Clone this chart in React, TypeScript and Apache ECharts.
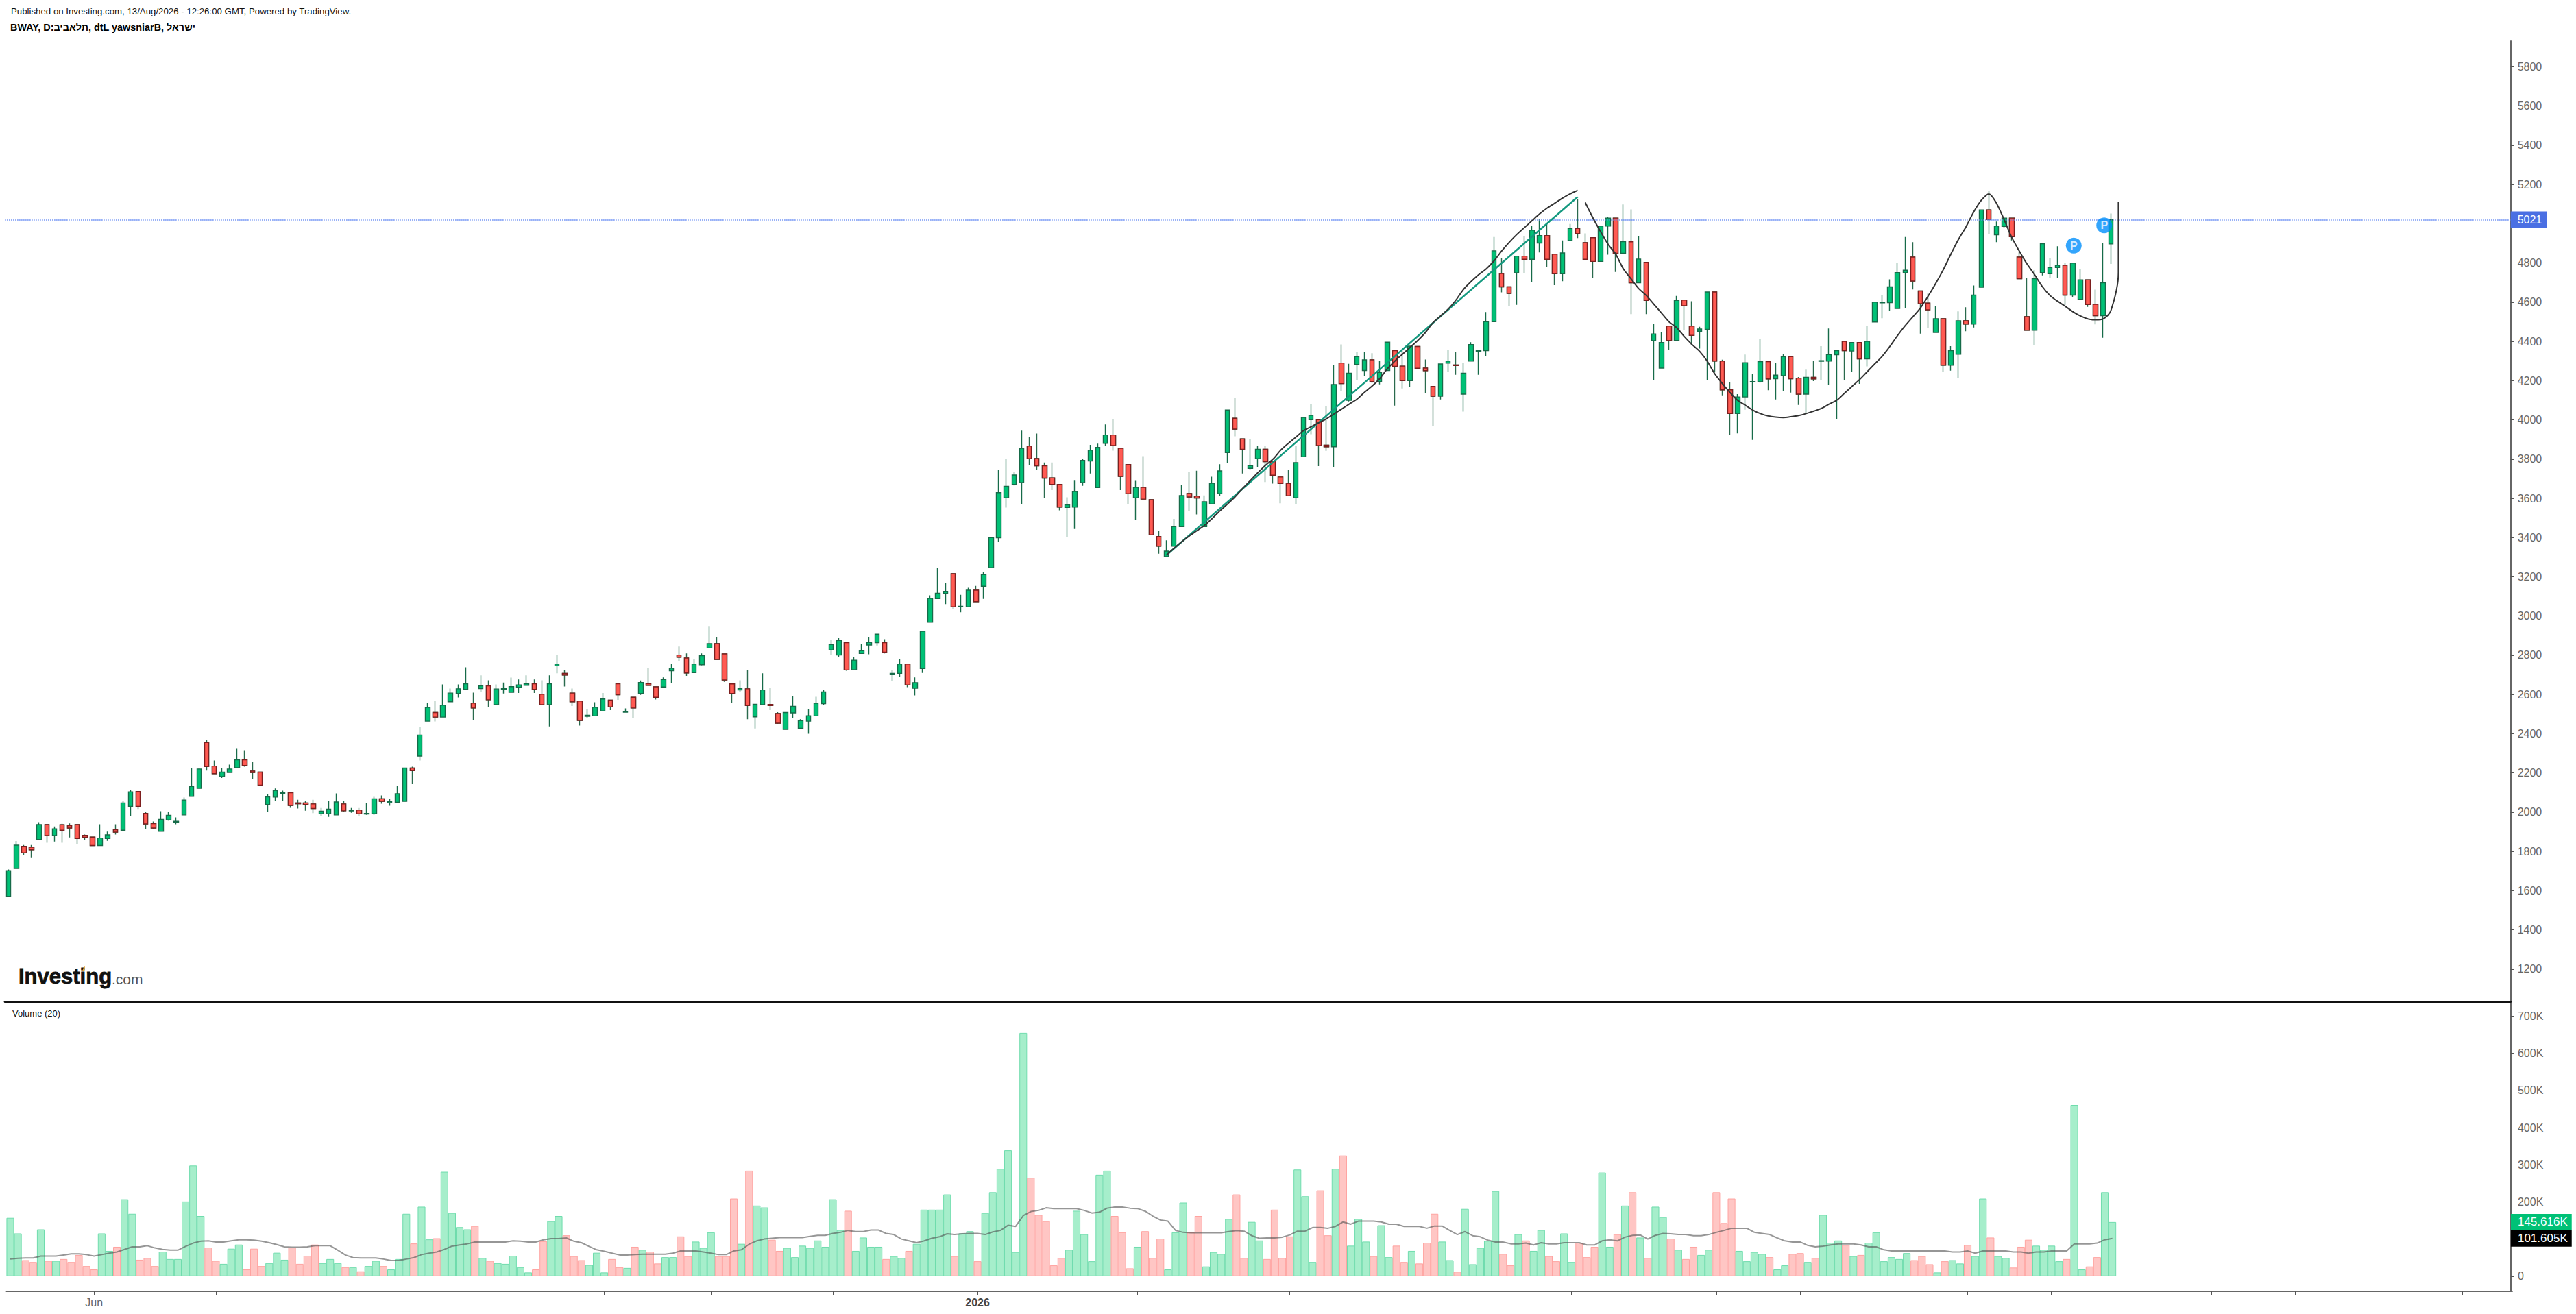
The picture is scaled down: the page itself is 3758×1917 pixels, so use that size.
import React, { useEffect, useRef } from "react";
import * as echarts from "echarts";

const headerLine1 = "Published on Investing.com, 13/Aug/2026 - 12:26:00 GMT, Powered by TradingView.";
// The reference shows these glyphs in this left-to-right order, so the direction is forced.
const headerLine2 = "\u202DBWAY, D:\u05D1\u05D9\u05D1\u05D0\u05DC\u05EA, dtL yawsniarB, \u05DC\u05D0\u05E8\u05E9\u05D9\u202C";
const volumeTitle = "Volume (20)";

const opens = [
1571,1713,1826,1821,1861,1937,1881,1936,1931,1937,
1882,1873,1830,1866,1910,1908,2029,2105,1994,1942,
1902,1960,1948,1986,2081,2122,2355,2235,2181,2202,
2227,2267,2209,2204,2039,2077,2096,2099,2047,2047,
2042,1992,1992,1986,2042,2006,2011,1991,1992,2068,
2049,2050,2055,2225,2286,2464,2508,2485,2563,2605,
2626,2556,2630,2644,2548,2626,2611,2637,2647,2655,
2601,2548,2746,2707,2607,2566,2489,2491,2516,2571,
2655,2510,2586,2605,2655,2639,2638,2721,2801,2786,
2711,2752,2837,2859,2807,2654,2623,2629,2486,2548,
2549,2503,2422,2506,2428,2464,2491,2553,2827,2801,
2864,2727,2809,2852,2864,2864,2701,2707,2755,2632,
2732,2968,3089,3115,3216,3047,3047,3132,3152,3246,
3399,3603,3671,3681,3866,3803,3766,3704,3671,3554,
3555,3681,3790,3655,3880,3923,3855,3772,3603,3656,
3593,3405,3303,3356,3456,3625,3611,3456,3571,3624,
3833,4008,3903,3753,3802,3850,3787,3709,3676,3603,
3812,4001,4001,3871,3863,4290,4100,4283,4252,4306,
4195,4252,4353,4274,4200,4374,4264,4171,4121,4289,
4280,4131,4300,4349,4353,4501,4746,4678,4750,4835,
4819,4902,4940,4845,4745,4914,4976,4904,4929,4808,
4988,5029,4850,4908,4699,4803,4404,4264,4478,4405,
4611,4478,4452,4462,4652,4300,4153,4032,4117,4193,
4194,4297,4210,4226,4322,4213,4131,4217,4299,4300,
4332,4400,4351,4394,4311,4499,4597,4598,4568,4750,
4830,4657,4595,4446,4516,4279,4335,4505,4488,4676,
5071,4944,4986,5029,4830,4526,4457,4751,4745,4777,
4788,4636,4615,4714,4589,4531,4897];

const closes = [
1702,1832,1793,1808,1937,1881,1915,1908,1919,1866,
1872,1830,1868,1884,1898,2047,2104,2029,1940,1919,
1963,1984,1953,2062,2131,2220,2233,2196,2204,2220,
2267,2238,2202,2138,2078,2110,2099,2034,2043,2039,
2019,2005,2015,2052,2007,2011,1992,1994,2068,2055,
2054,2094,2225,2212,2393,2534,2485,2545,2607,2629,
2655,2531,2644,2573,2628,2630,2640,2649,2655,2626,
2548,2655,2755,2699,2563,2468,2494,2535,2577,2537,
2599,2514,2531,2661,2647,2586,2676,2734,2790,2710,
2755,2798,2859,2779,2674,2605,2630,2544,2550,2623,
2544,2454,2508,2540,2467,2492,2555,2613,2855,2876,
2725,2775,2823,2865,2907,2816,2707,2755,2649,2660,
2922,3090,3116,3126,3047,3050,3132,3073,3211,3400,
3629,3661,3719,3855,3802,3766,3703,3671,3555,3567,
3635,3793,3845,3860,3923,3869,3712,3624,3656,3596,
3414,3356,3331,3456,3614,3607,3602,3583,3677,3740,
4050,3953,3850,3767,3850,3787,3718,3676,3613,3782,
4012,4023,3869,3863,4180,4185,4238,4322,4306,4195,
4242,4396,4273,4200,4376,4263,4251,4121,4285,4300,
4277,4238,4384,4353,4501,4862,4678,4645,4835,4819,
4967,4940,4819,4745,4851,4976,4950,4819,4808,4988,
5029,4850,4909,4699,4820,4609,4438,4394,4405,4609,
4582,4431,4463,4652,4300,4153,4032,4117,4291,4195,
4297,4209,4228,4322,4210,4131,4217,4209,4302,4333,
4353,4353,4394,4311,4400,4600,4601,4678,4751,4763,
4708,4593,4561,4516,4279,4353,4505,4488,4636,5071,
5022,4988,5029,4934,4720,4457,4720,4898,4777,4788,
4636,4799,4714,4588,4531,4699,5020];

const highs = [
1708,1853,1833,1833,1949,1937,1927,1941,1943,1937,
1886,1875,1938,1901,1938,2058,2115,2105,2001,1952,
2005,2001,1973,2075,2226,2226,2368,2263,2226,2242,
2326,2316,2258,2204,2090,2121,2110,2099,2063,2057,
2063,2021,2058,2096,2057,2021,2021,2048,2078,2085,
2069,2132,2225,2232,2436,2557,2567,2651,2630,2651,
2739,2609,2698,2672,2651,2661,2686,2677,2698,2677,
2672,2698,2803,2725,2630,2566,2524,2560,2608,2571,
2655,2529,2586,2671,2734,2639,2687,2757,2844,2809,
2782,2809,2946,2893,2807,2654,2672,2725,2551,2708,
2632,2510,2508,2594,2474,2526,2588,2625,2877,2887,
2864,2792,2856,2893,2907,2882,2725,2782,2755,2687,
2922,3106,3244,3170,3216,3108,3144,3154,3223,3400,
3747,3800,3735,3945,3914,3930,3783,3783,3671,3605,
3690,3800,3873,3879,3977,4003,3855,3772,3689,3815,
3593,3433,3386,3495,3668,3735,3741,3615,3710,3774,
4050,4114,3903,3903,3869,3868,3787,3709,3746,3869,
4012,4079,4001,4071,4280,4385,4286,4344,4344,4340,
4302,4396,4353,4353,4376,4374,4308,4171,4285,4355,
4344,4292,4396,4353,4550,4932,4827,4678,4835,4936,
4990,5025,4999,4845,4915,4999,5125,4951,4929,4988,
5036,5029,5098,5073,4936,4803,4490,4448,4478,4632,
4611,4605,4475,4652,4652,4307,4193,4131,4333,4236,
4413,4297,4292,4335,4322,4219,4256,4302,4376,4466,
4353,4400,4394,4394,4480,4600,4638,4717,4801,4932,
4906,4657,4644,4580,4516,4376,4553,4574,4685,5071,
5168,5011,5029,5029,4854,4722,4764,4898,4827,4885,
4801,4799,4770,4714,4664,4904,5052];

const lows = [
1567,1713,1781,1766,1861,1844,1850,1844,1871,1839,
1860,1830,1830,1854,1886,1908,1980,2016,1916,1916,
1902,1957,1938,1986,2081,2122,2212,2196,2174,2202,
2227,2232,2168,2138,2001,2058,2059,2022,2019,2007,
1995,1980,1976,1986,2002,1997,1980,1986,1986,2043,
2033,2050,2055,2143,2263,2464,2463,2485,2563,2585,
2626,2468,2615,2536,2548,2605,2611,2608,2647,2608,
2548,2437,2708,2641,2541,2442,2478,2491,2516,2520,
2573,2510,2478,2598,2647,2574,2638,2658,2772,2695,
2711,2748,2837,2779,2664,2558,2611,2474,2427,2548,
2520,2450,2422,2479,2428,2400,2491,2547,2800,2790,
2721,2727,2809,2805,2850,2809,2669,2689,2637,2595,
2710,2968,3089,3061,3035,3019,3047,3073,3087,3246,
3377,3553,3666,3569,3768,3747,3602,3642,3539,3402,
3444,3664,3727,3655,3868,3843,3642,3570,3491,3592,
3414,3318,3301,3356,3456,3537,3518,3456,3571,3611,
3780,3916,3727,3748,3758,3683,3675,3575,3613,3570,
3812,3927,3764,3842,3758,4146,4094,4203,4224,4189,
4181,4252,4073,4160,4166,4263,4136,3968,4104,4245,
4230,4042,4300,4230,4326,4501,4650,4580,4586,4749,
4702,4854,4780,4687,4707,4914,4927,4819,4723,4808,
4842,4754,4850,4539,4699,4539,4205,4264,4356,4405,
4457,4382,4364,4205,4242,4125,3922,3931,4052,3898,
4190,4151,4104,4146,4139,4076,4032,4198,4205,4178,
4005,4205,4247,4184,4273,4499,4518,4556,4568,4568,
4665,4440,4467,4446,4245,4251,4215,4452,4471,4676,
4949,4906,4980,4915,4720,4457,4382,4737,4723,4723,
4586,4624,4615,4576,4487,4419,4795];

// volume, thousands of shares
const volumes = [
157,115,43,38,126,41,41,46,38,57,
27,18,115,68,79,207,168,44,49,27,
66,46,46,201,298,162,77,41,33,74,
85,18,74,27,35,63,44,77,33,55,
85,35,46,35,24,24,13,27,41,27,
18,46,168,88,187,99,102,281,170,132,
126,135,49,41,35,33,55,24,10,18,
94,148,162,110,54,43,30,63,10,46,
24,22,79,71,66,34,51,51,107,54,
93,76,118,54,54,209,87,284,190,185,
98,68,76,51,82,76,96,79,207,124,
176,68,104,79,79,46,54,49,68,87,
179,179,179,220,54,115,121,40,170,226,
289,339,65,655,265,165,148,29,49,71,
176,113,40,273,284,162,118,21,79,121,
49,101,18,118,198,118,162,26,65,60,
154,220,49,146,96,46,179,49,107,287,
215,38,231,110,289,325,82,154,93,54,
137,51,82,38,68,34,90,168,93,43,
12,181,32,76,95,229,60,29,113,96,
68,124,54,40,115,38,90,51,79,279,
79,113,190,226,104,49,187,159,101,71,
46,79,57,71,226,143,209,68,40,65,
60,51,18,29,60,62,38,49,165,90,
96,84,54,57,90,118,40,51,46,62,
43,54,32,10,40,43,34,84,54,209,
104,54,49,23,79,98,82,71,82,40,
46,461,18,26,51,226,145.616];

// 20-period moving average of volume, thousands
const volumeAverage = [
46,48,49,49,54,54,54,57,60,60,
58,54,58,62,65,72,79,79,82,76,
72,70,70,80,89,94,95,92,92,95,
98,98,97,94,90,85,79,78,78,79,
82,82,82,70,57,50,49,49,49,46,
42,42,46,50,58,62,65,72,81,84,
87,92,92,92,92,92,95,94,92,92,
98,101,101,103,94,90,80,71,67,62,
57,57,58,59,59,59,59,62,68,68,
68,65,62,58,58,68,71,86,95,100,
102,104,104,104,104,107,110,110,115,118,
123,120,120,124,124,115,112,100,95,90,
95,102,106,114,112,114,115,115,112,119,
123,137,134,163,174,177,184,182,182,182,
182,177,170,172,183,186,186,183,182,175,
162,151,148,123,118,117,117,117,117,117,
120,123,121,109,102,103,103,105,111,121,
121,131,131,129,134,146,140,148,148,148,
146,140,140,134,134,134,129,135,135,123,
112,120,109,106,97,92,92,87,87,89,
84,90,87,87,90,90,90,84,84,95,
98,95,105,110,111,100,110,115,114,112,
112,109,109,112,118,123,129,129,129,118,
115,112,103,95,92,92,83,79,81,84,
87,87,87,84,79,79,71,68,68,68,
68,68,68,68,68,65,65,68,62,68,
68,68,68,65,65,62,65,65,68,68,
68,87,87,87,89,98,101.605];

// hand-drawn chart annotations: [bar index, price]
const trendLine: [number, number][] = [[152, 3310], [206, 5137]];
const drawnCurveUp: [number, number][] = [
[152,3310],[153,3345],[154,3378],[155,3408],[156,3435],[157,3462],[158,3497],[159,3535],[160,3570],[161,3607],
[162,3650],[163,3690],[164,3730],[165,3768],[166,3800],[167,3845],[168,3880],[169,3912],[170,3945],[171,3965],
[172,3985],[173,4005],[174,4030],[175,4055],[176,4080],[177,4105],[178,4140],[179,4172],[180,4210],[181,4260],
[182,4300],[183,4335],[184,4370],[185,4405],[186,4445],[187,4495],[188,4530],[189,4565],[190,4610],[191,4665],
[192,4705],[193,4740],[194,4770],[195,4810],[196,4860],[197,4905],[198,4945],[199,4980],[200,5015],[201,5050],
[202,5080],[203,5105],[204,5130],[205,5152],[206,5170]];
const drawnCurveDown: [number, number][] = [
[207,5108],[208,5030],[209,4960],[210,4895],[211,4845],[212,4770],[213,4720],[214,4670],[215,4635],[216,4590],
[217,4545],[218,4500],[219,4470],[220,4425],[221,4385],[222,4350],[223,4300],[224,4235],[225,4185],[226,4140],
[227,4100],[228,4075],[229,4050],[230,4032],[231,4020],[232,4014],[233,4012],[234,4016],[235,4022],[236,4032],
[237,4045],[238,4058],[239,4080],[240,4100],[241,4135],[242,4170],[243,4205],[244,4245],[245,4285],[246,4325],
[247,4375],[248,4430],[249,4480],[250,4525],[251,4570],[252,4630],[253,4695],[254,4765],[255,4845],[256,4920],
[257,4985],[258,5060],[259,5120],[260,5152],[261,5104],[262,5020],[263,4930],[264,4860],[265,4795],[266,4740],
[267,4680],[268,4635],[269,4605],[270,4580],[271,4552],[272,4530],[273,4515],[274,4510],[275,4515],[276,4556],
[277,4750],[277,5112]];
const pinMarks: [number, number][] = [[271, 4889], [275, 4992]];

const lastPrice = 5021;
const lastVolume = 145616;
const lastAverage = 101605;
const priceTicks = [1200,1400,1600,1800,2000,2200,2400,2600,2800,3000,3200,3400,3600,3800,4000,4200,4400,4600,4800,5000,5200,5400,5600,5800];
const volumeTicks = [0,100000,200000,300000,400000,500000,600000,700000];
// 100K is covered by the black last-value tag in the reference
const volumeTickLabels = [0,200000,300000,400000,500000,600000,700000];
const slotCount = 329;
const timeTicks = [11,27,46,62,78,92,108,127,148,168,189,205,224,235,246,257,268,289,300,311,322];
const timeLabels: Record<number, string> = { 11: "Jun", 127: "2026" };

const FONT = "'Liberation Sans', Arial, sans-serif";
const UP = "#00c176";
const UP_EDGE = "#176b49";
const WICK = "#2a6a4d";
const DOWN = "#ff5a52";
const DOWN_EDGE = "#7d1f1f";

export default function App() {
  const ref = useRef<HTMLDivElement>(null);
  useEffect(() => {
    document.body.style.margin = "0";
    const chart = echarts.init(ref.current!, undefined, { renderer: "svg" });
    const categories = Array.from({ length: slotCount }, (_, i) => timeLabels[i] ?? String(i));
    const tickSet = new Set(timeTicks);

    const candleData = opens.map((o, i) => [o, closes[i], lows[i], highs[i]]);
    const downBodies = opens.map((o, i) =>
      closes[i] < o ? [o, closes[i], closes[i], o] : ["-", "-", "-", "-"]
    );
    const volumeData = volumes.map((v, i) => ({
      value: v * 1000,
      itemStyle: closes[i] >= opens[i]
        ? { color: "#a6eecb", borderColor: "#6fdcad" }
        : { color: "#ffc6c4", borderColor: "#ffa3a0" },
    }));

    const curve = (data: [number, number][], color: string, width: number, smooth: any) => ({
      type: "line",
      xAxisIndex: 0,
      yAxisIndex: 0,
      data,
      symbol: "none",
      smooth,
      lineStyle: { color, width },
      silent: true,
      z: 5,
    });

    chart.setOption({
      animation: false,
      backgroundColor: "#ffffff",
      textStyle: { fontFamily: FONT },
      grid: [
        { left: 7.15, width: 3655.5, top: 60, height: 1401 },
        { left: 9.45, width: 3655.5, top: 1463, height: 421 },
      ],
      xAxis: [
        {
          type: "category",
          gridIndex: 0,
          data: categories,
          boundaryGap: true,
          axisLine: { show: true, onZero: false, lineStyle: { color: "#111111", width: 3 } },
          axisTick: { show: false },
          axisLabel: { show: false },
          splitLine: { show: false },
        },
        {
          type: "category",
          gridIndex: 1,
          data: categories,
          boundaryGap: true,
          axisLine: { show: true, onZero: false, lineStyle: { color: "#666666", width: 2 } },
          axisTick: {
            show: true,
            alignWithLabel: true,
            interval: (i: number) => tickSet.has(i),
            length: 5,
            lineStyle: { color: "#555555", width: 1 },
          },
          axisLabel: {
            show: true,
            interval: (i: number) => timeLabels[i] !== undefined,
            margin: 8,
            fontFamily: FONT,
            fontSize: 16,
            color: "#666666",
            formatter: (v: string) => (v === "2026" ? "{b|2026}" : v),
            rich: { b: { fontFamily: FONT, fontSize: 16, fontWeight: "bold", color: "#444444" } },
          },
          splitLine: { show: false },
        },
      ],
      yAxis: [
        {
          type: "value",
          gridIndex: 0,
          position: "right",
          min: 1035,
          max: 5931,
          axisLine: { show: true, lineStyle: { color: "#666666", width: 2 } },
          axisTick: { show: true, length: 5, customValues: priceTicks, lineStyle: { color: "#555555" } },
          axisLabel: {
            show: true,
            customValues: priceTicks,
            margin: 10,
            fontFamily: FONT,
            fontSize: 16,
            color: "#666666",
            formatter: (v: number) => String(v),
          },
          splitLine: { show: false },
        },
        {
          type: "value",
          gridIndex: 1,
          position: "right",
          offset: -2,
          min: -41000,
          max: 736000,
          axisLine: { show: true, lineStyle: { color: "#666666", width: 2 } },
          axisTick: { show: true, length: 5, customValues: volumeTicks, lineStyle: { color: "#555555" } },
          axisLabel: {
            show: true,
            customValues: volumeTickLabels,
            margin: 10,
            fontFamily: FONT,
            fontSize: 16,
            color: "#666666",
            formatter: (v: number) => (v === 0 ? "0" : v / 1000 + "K"),
          },
          splitLine: { show: false },
        },
      ],
      series: [
        {
          type: "candlestick",
          name: "BWAY",
          xAxisIndex: 0,
          yAxisIndex: 0,
          data: candleData,
          barWidth: 7,
          itemStyle: {
            color: UP,
            color0: DOWN,
            borderColor: UP_EDGE,
            borderColor0: WICK,
            borderWidth: 1.4,
          },
          markLine: {
            silent: true,
            symbol: "none",
            precision: 0,
            lineStyle: { color: "#5f86f2", width: 1.5, type: "dotted", opacity: 1 },
            label: {
              show: true,
              position: "end",
              distance: 0,
              formatter: String(lastPrice),
              color: "#ffffff",
              fontFamily: FONT,
              fontSize: 16,
              backgroundColor: "#4a6fe3",
              padding: [4, 7, 4, 10],
            },
            data: [{ yAxis: lastPrice }],
          },
          z: 3,
        },
        {
          type: "candlestick",
          name: "BWAY down bodies",
          xAxisIndex: 0,
          yAxisIndex: 0,
          data: downBodies,
          barWidth: 7,
          itemStyle: {
            color: UP,
            color0: DOWN,
            borderColor: DOWN_EDGE,
            borderColor0: DOWN_EDGE,
            borderWidth: 1.4,
          },
          z: 4,
        },
        curve(trendLine, "#14997f", 2.5, false),
        curve(drawnCurveUp, "#333333", 2, 0.3),
        curve(drawnCurveDown, "#333333", 2, 0.3),
        {
          type: "scatter",
          xAxisIndex: 0,
          yAxisIndex: 0,
          data: pinMarks,
          symbol: "circle",
          symbolSize: 23,
          symbolOffset: [1.5, 0],
          itemStyle: { color: "#008ffb" },
          label: {
            show: true,
            position: "inside",
            formatter: "P",
            color: "#ffffff",
            fontFamily: FONT,
            fontSize: 16,
            fontWeight: "bold",
          },
          z: 6,
        },
        {
          type: "bar",
          name: "Volume",
          xAxisIndex: 1,
          yAxisIndex: 1,
          data: volumeData,
          barWidth: "100%",
          itemStyle: { borderWidth: 1 },
          markLine: {
            silent: true,
            symbol: "none",
            lineStyle: { width: 0, color: "transparent", opacity: 1 },
            label: {
              show: true,
              position: "end",
              distance: -2,
              color: "#ffffff",
              opacity: 1,
              fontFamily: FONT,
              fontSize: 17,
              padding: [4, 6, 3, 10],
            },
            data: [
              { yAxis: lastVolume, label: { formatter: "145.616K", backgroundColor: "#00c176" } },
              { yAxis: lastAverage, label: { formatter: "101.605K", backgroundColor: "#000000" } },
            ],
          },
          z: 2,
        },
        {
          type: "line",
          name: "Volume MA",
          xAxisIndex: 1,
          yAxisIndex: 1,
          data: volumeAverage.map((v) => v * 1000),
          symbol: "none",
          lineStyle: { color: "rgba(80,80,80,0.6)", width: 2 },
          z: 4,
          silent: true,
        },
      ],
      graphic: [
        { type: "text", x: 16, y: 10, style: { text: headerLine1, font: `13.25px ${FONT}`, fill: "#111111" } },
        { type: "text", x: 15, y: 33, style: { text: headerLine2, font: `bold 14.4px ${FONT}`, fill: "#000000" } },
        { type: "text", x: 18, y: 1472, style: { text: volumeTitle, font: `13px ${FONT}`, fill: "#111111" } },
        { type: "text", x: 27, y: 1409, style: { text: "Investing", font: `bold 31px ${FONT}`, fill: "#111111", stroke: "#111111", lineWidth: 0.8 } },
        { type: "text", x: 163, y: 1418, style: { text: ".com", font: `21px ${FONT}`, fill: "#555555" } },
        { type: "polygon", shape: { points: [[120, 1417], [122, 1411], [124, 1410], [123, 1417]] }, style: { fill: "#f5a623" } },
      ],
    });
    return () => chart.dispose();
  }, []);
  return <div ref={ref} style={{ width: 3758, height: 1917 }} />;
}
